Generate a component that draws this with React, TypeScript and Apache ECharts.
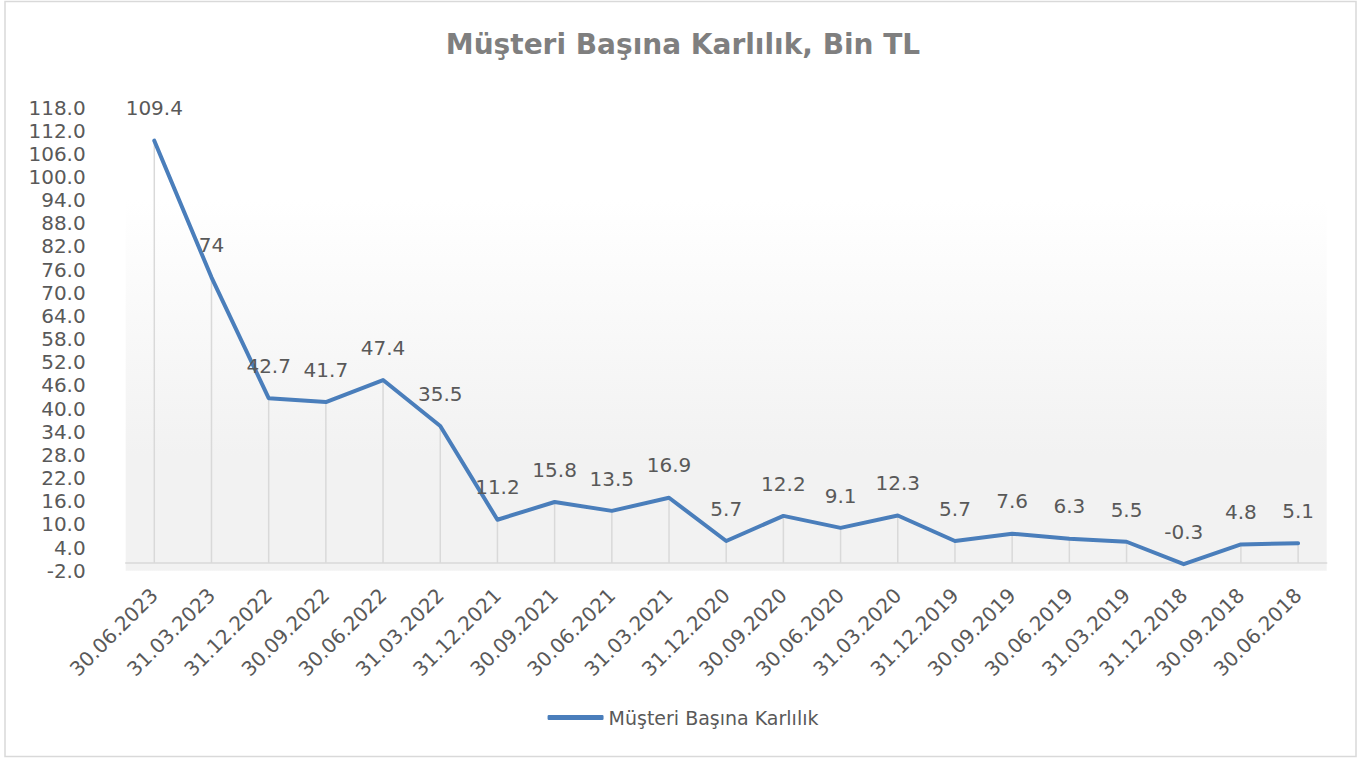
import React, { useEffect, useRef } from "react";
import * as echarts from "echarts";

const categories = [
  "30.06.2023", "31.03.2023", "31.12.2022", "30.09.2022", "30.06.2022", "31.03.2022",
  "31.12.2021", "30.09.2021", "30.06.2021", "31.03.2021", "31.12.2020", "30.09.2020",
  "30.06.2020", "31.03.2020", "31.12.2019", "30.09.2019", "30.06.2019", "31.03.2019",
  "31.12.2018", "30.09.2018", "30.06.2018",
];
const values = [
  109.4, 74, 42.7, 41.7, 47.4, 35.5, 11.2, 15.8, 13.5, 16.9, 5.7, 12.2, 9.1, 12.3, 5.7,
  7.6, 6.3, 5.5, -0.3, 4.8, 5.1,
];
const seriesName = "Müşteri Başına Karlılık";
const titleText = "Müşteri Başına Karlılık, Bin TL";
const yMin = -2;
const yMax = 118;
const yStep = 6;

const FONT = "DejaVu Sans";

export default function App() {
  const ref = useRef<HTMLDivElement>(null);
  useEffect(() => {
    if (!ref.current) return;
    const chart = echarts.init(ref.current, undefined, { renderer: "svg" });
    chart.setOption({
      animation: false,
      backgroundColor: "#ffffff",
      textStyle: { fontFamily: FONT },
      title: {
        text: titleText,
        left: "center",
        top: 25,
        textStyle: { fontFamily: FONT, fontSize: 28, fontWeight: "bold", color: "#7f7f7f" },
      },
      graphic: [
        {
          type: "rect",
          shape: { x: 5, y: 1.5, width: 1351, height: 755 },
          style: { fill: "none", stroke: "#d9d9d9", lineWidth: 1.5 },
          silent: true,
        },
      ],
      legend: {
        data: [seriesName],
        bottom: 26,
        left: "center",
        icon: "roundRect",
        itemWidth: 56,
        itemHeight: 5,
        textStyle: { fontFamily: FONT, fontSize: 19, color: "#595959" },
      },
      grid: {
        left: 125.7,
        right: 39.3,
        top: 107.5,
        bottom: 187.3,
        show: true,
        borderWidth: 0,
        backgroundColor: new echarts.graphic.LinearGradient(0, 0, 0, 1, [
          { offset: 0, color: "#ffffff" },
          { offset: 0.2, color: "#ffffff" },
          { offset: 0.75, color: "#f2f2f2" },
          { offset: 1, color: "#f2f2f2" },
        ]),
      },
      xAxis: {
        type: "category",
        data: categories,
        boundaryGap: true,
        axisLine: { show: true, onZero: true, lineStyle: { color: "#d9d9d9", width: 1.5 } },
        axisTick: { show: false },
        axisLabel: {
          rotate: 45,
          interval: 0,
          margin: 21,
          fontFamily: FONT,
          fontSize: 20,
          color: "#595959",
        },
        splitLine: { show: false },
      },
      yAxis: {
        type: "value",
        min: yMin,
        max: yMax,
        interval: yStep,
        axisLine: { show: false },
        axisTick: { show: false },
        splitLine: { show: false },
        axisLabel: {
          margin: 40,
          fontFamily: FONT,
          fontSize: 20,
          color: "#595959",
          formatter: (v: number) => v.toFixed(1),
        },
      },
      series: [
        {
          name: "drop",
          type: "bar",
          data: values,
          barWidth: 1.5,
          itemStyle: { color: "#d9d9d9" },
          silent: true,
          z: 1,
        },
        {
          name: seriesName,
          type: "line",
          data: values,
          showSymbol: true,
          symbol: "circle",
          symbolSize: 0.5,
          lineStyle: { color: "#4a7ebb", width: 4, cap: "round", join: "round" },
          itemStyle: { color: "#4a7ebb" },
          z: 3,
          label: {
            show: true,
            position: "top",
            distance: 22,
            fontFamily: FONT,
            fontSize: 20,
            color: "#595959",
          },
        },
      ],
    });
    return () => chart.dispose();
  }, []);
  return (
    <div
      ref={ref}
      style={{ position: "fixed", left: 0, top: 0, width: 1366, height: 758 }}
    />
  );
}
